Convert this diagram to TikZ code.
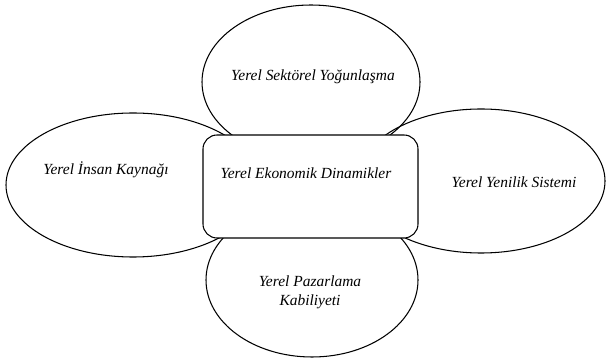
\documentclass[tikz,border=0pt]{standalone}
\usepackage{fontspec}
\setmainfont{Liberation Serif}

\begin{document}
\begin{tikzpicture}[line width = 0.9pt,
    every node/.style = {font = \itshape\fontsize{13.2}{16.2}\selectfont, align = center}]
    \useasboundingbox (0, 0) rectangle (18.18, 10.74);

    \draw (9.33, 8.28) ellipse (3.27 cm and 2.31 cm);
    \draw (3.99, 5.19) ellipse (3.81 cm and 2.16 cm);
    \draw (14.43, 5.31) ellipse (3.72 cm and 2.16 cm);
    \draw (9.36, 2.34) ellipse (3.18 cm and 2.31 cm);

    \draw[rounded corners = 0.42 cm, fill = white] (6.09, 3.60) rectangle (12.54, 6.69);

    \draw (9.18, 5.55) node (ekonomik) {Yerel Ekonomik Dinamikler};
    \draw (9.39, 8.43) node (sektorel) {Yerel Sektörel Yoğunlaşma};
    \draw (3.18, 5.64) node (insan) {Yerel İnsan Kaynağı};
    \draw (15.42, 5.28) node (yenilik) {Yerel Yenilik Sistemi};
    \draw (9.30, 1.97) node (pazarlama) {Yerel Pazarlama\\Kabiliyeti};
  \end{tikzpicture}
\end{document}
